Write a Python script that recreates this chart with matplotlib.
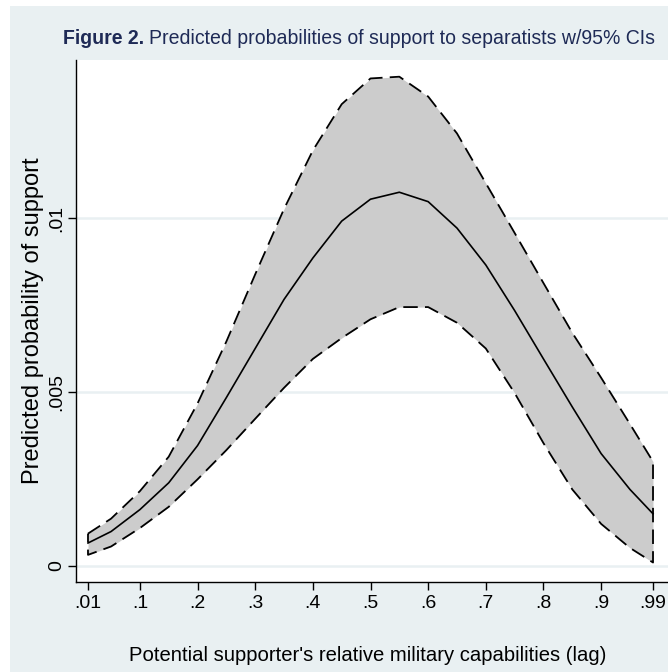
import matplotlib
matplotlib.use("Agg")
import matplotlib.pyplot as plt
from matplotlib.patches import Rectangle

# predicted probabilities
x_vals = [0.01, 0.05, 0.10, 0.15, 0.20, 0.25, 0.30, 0.35, 0.40, 0.45, 0.50,
          0.55, 0.60, 0.65, 0.70, 0.75, 0.80, 0.85, 0.90, 0.95, 0.99]
mean_p = [0.00066, 0.00099, 0.00162, 0.00239, 0.00346, 0.00484, 0.00625,
          0.00766, 0.00885, 0.00991, 0.01054, 0.01074, 0.01047, 0.00971,
          0.00865, 0.00734, 0.00595, 0.00457, 0.00323, 0.00220, 0.00150]
upper_p = [0.00093, 0.00136, 0.00215, 0.00314, 0.00467, 0.00645, 0.00838,
           0.01026, 0.01194, 0.01327, 0.01401, 0.01406, 0.01349, 0.01243,
           0.01100, 0.00957, 0.00813, 0.00670, 0.00541, 0.00408, 0.00300]
lower_p = [0.00032, 0.00056, 0.00109, 0.00170, 0.00249, 0.00333, 0.00423,
           0.00512, 0.00595, 0.00655, 0.00709, 0.00744, 0.00744, 0.00699,
           0.00625, 0.00497, 0.00353, 0.00220, 0.00121, 0.00052, 0.00010]

x_ticks = [0.01, 0.1, 0.2, 0.3, 0.4, 0.5, 0.6, 0.7, 0.8, 0.9, 0.99]
x_ticklabels = [".01", ".1", ".2", ".3", ".4", ".5", ".6", ".7", ".8", ".9", ".99"]
y_ticks = [0, 0.005, 0.01]
y_ticklabels = ["0", ".005", ".01"]

BG = "#e9f0f2"
NAVY = "#1e2a56"
FONT = "Liberation Sans"
W, H = 668, 672

fig = plt.figure(figsize=(W / 100, H / 100), dpi=100, facecolor="white")
fig.patches.append(Rectangle((10 / W, 0), 1, 1 - 6 / H, transform=fig.transFigure,
                             facecolor=BG, edgecolor="none", zorder=-10))

ax = fig.add_axes([76 / W, (H - 582) / H, 592 / W, 522 / H])
ax.set_facecolor("white")

for yt in y_ticks:
    ax.axhline(yt, color=BG, linewidth=1.8, zorder=0)

ax.fill_between(x_vals, lower_p, upper_p, color="#cccccc", linewidth=0, zorder=1)
# CI outline: upper curve, down the right end, back along the lower curve
ci_x = x_vals + x_vals[::-1] + [x_vals[0]]
ci_y = upper_p + lower_p[::-1] + [upper_p[0]]
ax.plot(ci_x, ci_y, color="black", linewidth=1.3, dashes=(8, 4), zorder=2)
ax.plot(x_vals, mean_p, color="black", linewidth=1.2, zorder=3)

ax.set_xlim(-0.0108, 1.016)
ax.set_ylim(-0.00046, 0.01454)

ax.spines["top"].set_visible(False)
ax.spines["right"].set_visible(False)
ax.spines["left"].set_linewidth(1.0)
ax.spines["bottom"].set_linewidth(1.0)

ax.set_xticks(x_ticks)
ax.set_xticklabels(x_ticklabels, fontsize=14, fontfamily=FONT)
ax.set_yticks(y_ticks)
ax.set_yticklabels(y_ticklabels, fontsize=14, fontfamily=FONT, rotation=90, va="center")
ax.tick_params(axis="x", direction="out", length=5.5, width=1, pad=4)
ax.tick_params(axis="y", direction="out", length=6, width=1, pad=2)

ax.set_ylabel("Predicted probability of support", fontsize=17, fontfamily=FONT, labelpad=3)

r = fig.canvas.get_renderer()


def fit_text(x, y, s, width_px, size=17, **kw):
    # Helvetica Narrow is not available: shrink a regular face to about the same width
    t = fig.text(x / W, 1 - y / H, s, fontsize=size, fontfamily=FONT, **kw)
    w = t.get_window_extent(renderer=r).width
    t.set_fontsize(size * width_px / w)
    return t


xl = fit_text(368, 661, "Potential supporter's relative military capabilities (lag)", 480,
              ha="center", va="baseline", color="black")

# title: bold "Figure 2." followed by the rest, together about 589 px wide
t1 = fig.text(63 / W, 1 - 44 / H, "Figure 2.", fontsize=17, fontweight="bold",
              fontfamily=FONT, color=NAVY, va="baseline", ha="left")
t2 = fig.text(0, 1 - 44 / H, "Predicted probabilities of support to separatists w/95% CIs",
              fontsize=17, fontfamily=FONT, color=NAVY, va="baseline", ha="left")
w1 = t1.get_window_extent(renderer=r).width
w2 = t2.get_window_extent(renderer=r).width
scale = 592 / (w1 + w2 + 5)
t1.set_fontsize(17 * scale)
t2.set_fontsize(17 * scale)
t2.set_x((62 + w1 * scale + 5) / W)

plt.savefig("out.png", dpi=100, facecolor="white")
plt.close()
